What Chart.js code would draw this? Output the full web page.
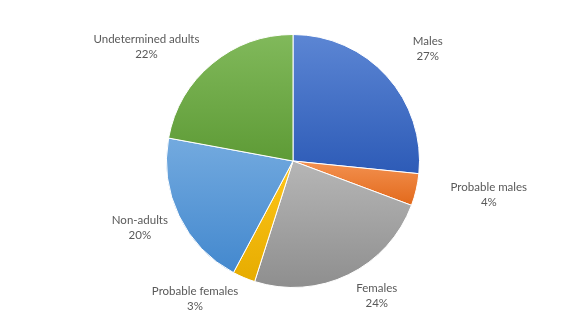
<!DOCTYPE html>
<html>
<head>
<meta charset="utf-8">
<script src="https://cdn.jsdelivr.net/npm/chart.js@4/dist/chart.umd.min.js"></script>
<style>
  html, body { margin: 0; padding: 0; background: #fff; }
  #wrap { position: relative; width: 586px; height: 322px; }
</style>
</head>
<body>
<div id="wrap"><canvas id="pie"></canvas></div>
<script>
// data
const categories = ['Males', 'Probable males', 'Females', 'Probable females', 'Non-adults', 'Undetermined adults'];
const shares = [26.6, 4.1, 24.2, 2.9, 20.1, 22.1];

// Excel-ish gradient colours: light top -> dark bottom
const lightColors = ['#5C86D4', '#F39150', '#B6B6B6', '#FFC61A', '#73AADF', '#81B95B'];
const darkColors  = ['#2D5BB7', '#E2691B', '#8E8E8E', '#E6AC00', '#4388CE', '#5E9B36'];

// label placement: [distance in radii, angle in degrees clockwise from top]
const labelLayout = [[1.39, 50], [1.57, 99.6], [1.25, 148], [1.33, 215.6], [1.32, 246.5], [1.47, 308]];

const total = shares.reduce((a, b) => a + b, 0);

// vertical extent of slice i so each slice gets its own gradient box
function sliceYRange(i, cy, r) {
  let start = 0;
  for (let k = 0; k < i; k++) start += shares[k];
  const a0 = start / total * 360, a1 = (start + shares[i]) / total * 360;
  const ys = [cy];
  const yAt = a => cy - r * Math.cos(a * Math.PI / 180);
  ys.push(yAt(a0), yAt(a1));
  if (a0 <= 0) ys.push(cy - r);
  if (a0 <= 180 && a1 >= 180) ys.push(cy + r);
  if (a1 >= 360) ys.push(cy - r);
  return [Math.min(...ys), Math.max(...ys)];
}

function sliceFill(ctx) {
  const chart = ctx.chart, area = chart.chartArea, i = ctx.dataIndex;
  if (!area) return lightColors[i];
  const cy = (area.top + area.bottom) / 2;
  const r = Math.min(area.right - area.left, area.bottom - area.top) / 2;
  const [y0, y1] = sliceYRange(i, cy, r);
  const g = chart.ctx.createLinearGradient(0, y0, 0, y1);
  g.addColorStop(0, lightColors[i]);
  g.addColorStop(1, darkColors[i]);
  return g;
}

const labelPlugin = {
  id: 'outsideLabels',
  afterDraw(chart) {
    const arc = chart.getDatasetMeta(0).data[0];
    if (!arc) return;
    const { x: cx, y: cy, outerRadius: r } = arc.getProps(['x', 'y', 'outerRadius'], true);
    const c = chart.ctx;
    c.save();
    c.font = '11.5px Lato';
    c.fillStyle = '#595959';
    c.textAlign = 'center';
    c.textBaseline = 'middle';
    categories.forEach((name, i) => {
      const [d, deg] = labelLayout[i];
      const a = deg * Math.PI / 180;
      const x = cx + d * r * Math.sin(a);
      const y = cy - d * r * Math.cos(a);
      const pct = Math.round(shares[i] / total * 100) + '%';
      c.fillText(name, x, y - 7);
      c.fillText(pct, x, y + 8);
    });
    c.restore();
  }
};

new Chart(document.getElementById('pie'), {
  type: 'pie',
  data: {
    labels: categories,
    datasets: [{
      data: shares,
      backgroundColor: sliceFill,
      borderColor: '#ffffff',
      borderWidth: 1
    }]
  },
  options: {
    responsive: true,
    maintainAspectRatio: false,
    animation: false,
    layout: { padding: { top: 34, bottom: 34, left: 0, right: 0 } },
    plugins: { legend: { display: false }, tooltip: { enabled: false } }
  },
  plugins: [labelPlugin]
});
</script>
</body>
</html>
